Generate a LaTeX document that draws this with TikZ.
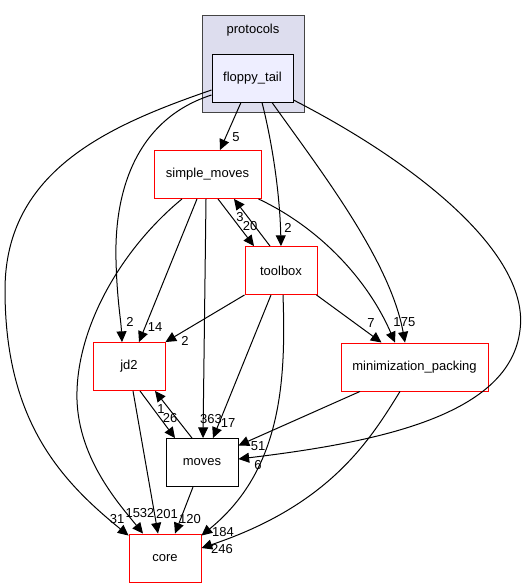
\documentclass[tikz,border=0pt]{standalone}
\usepackage{fontspec}
\setmainfont{Liberation Sans}
\usetikzlibrary{arrows.meta,calc}
\definecolor{clusterfill}{HTML}{DDDDEE}
\definecolor{clusterline}{HTML}{444444}
\definecolor{dirfill}{HTML}{EEEEFF}
\tikzset{
	dirbox/.style={draw=red, line width=0.7pt, fill=white, minimum height=36pt,
		minimum width=54pt, inner sep=0pt, font=\fontsize{9.75}{11}\selectfont},
	dep/.style={line width=0.75pt, -{Triangle[length=8pt,width=7.5pt]}},
	lbl/.style={font=\fontsize{9.75}{11}\selectfont, inner sep=0pt},
}

\begin{document}
\begin{tikzpicture}[x=0.75pt, y=-0.75pt]
			\useasboundingbox (0,0) rectangle (526,588);
			
			% Cluster holding the current directory
			\draw[clusterline, fill=clusterfill, line width=0.75pt] (202.5,15.5) rectangle (304,113);
			\node[lbl] (protocols) at (253,30) {protocols};
			\node[dirbox, draw=black, fill=dirfill, minimum width=60.75pt] (ft) at (252.5,78) {floppy\_tail};
			
			% Directories it depends on
			\node[dirbox, minimum width=80.25pt] (sm) at (207.5,174.5) {simple\_moves};
			\node[dirbox] (tb) at (281,270.5) {toolbox};
			\node[dirbox] (jd2) at (129,366.5) {jd2};
			\node[dirbox, minimum width=110.25pt] (mp) at (414.5,367) {minimization\_packing};
			\node[dirbox, draw=black] (mv) at (202,462.5) {moves};
			\node[dirbox] (core) at (165,558) {core};
			
			% Edges leaving floppy_tail
			\draw[dep] ($(ft.south)+(-11.5,0)$) -- ($(sm.north)+(12.5,0)$);
			\node[lbl] (l-ft-sm) at (236,137) {5};
			\draw[dep] ($(ft.west)+(0,17)$) .. controls (140,118) and (114,185) .. (116,260)
				.. controls (117,300) and (121,320) .. ($(jd2.north)+(-7,0)$);
			\node[lbl] (l-ft-jd2) at (130,322) {2};
			\draw[dep] ($(ft.west)+(0,12)$) .. controls (110,125) and (5,170) .. (5,290)
				.. controls (5,420) and (60,480) .. ($(core.north west)+(0,2)$);
			\node[lbl] (l-ft-core) at (117,519) {31};
			\draw[dep] ($(ft.south)+(9.5,0)$) .. controls (274,150) and (280,200) .. (tb.north);
			\node[lbl] (l-ft-tb) at (288,228) {2};
			\draw[dep] ($(ft.south)+(19.5,0)$) .. controls (320,170) and (390,260) .. ($(mp.north)+(-9.5,0)$);
			\node[lbl] (l-ft-mp) at (408,322) {75};
			\draw[dep] ($(ft.east)+(0,22)$) .. controls (420,165) and (530,255) .. (520,330)
				.. controls (510,415) and (380,442) .. ($(mv.east)+(0,-3.5)$);
			\node[lbl] (l-ft-mv) at (258,465) {6};
			
			% Edges leaving simple_moves
			\draw[dep] ($(sm.south)+(10.5,0)$) -- ($(tb.north)+(-27,0)$);
			\node[lbl] (l-sm-tb) at (250,226) {20};
			\draw[dep] ($(sm.south)+(-10.5,0)$) -- ($(jd2.north)+(10,0)$);
			\node[lbl] (l-sm-jd2) at (155,327) {14};
			\draw[dep] ($(sm.south)+(-25.5,0)$) .. controls (120,250) and (75,330) .. (77,400)
				.. controls (79,460) and (120,505) .. ($(core.north)+(-22,0)$);
			\node[lbl] (l-sm-core) at (140,513) {1532};
			\draw[dep] ($(sm.south)+(-1.5,0)$) -- ($(mv.north)+(1,0)$);
			\node[lbl] (l-sm-mv) at (211,419) {363};
			\draw[dep] ($(sm.south east)+(-3,0)$) .. controls (320,228) and (368,280) .. ($(mp.north)+(-19.5,0)$);
			\node[lbl] (l-sm-mp) at (397,322) {1};
			
			% Edges leaving toolbox
			\draw[dep] ($(tb.north)+(-11,0)$) -- ($(sm.south)+(26.5,0)$);
			\node[lbl] (l-tb-sm) at (240,217) {3};
			\draw[dep] (tb.south west) -- (jd2.north east);
			\node[lbl] (l-tb-jd2) at (185,341) {2};
			\draw[dep] ($(tb.south)+(-10,0)$) -- ($(mv.north)+(11,0)$);
			\node[lbl] (l-tb-mv) at (228,423) {17};
			\draw[dep] ($(tb.south)+(2,0)$) .. controls (286,380) and (282,470) .. ($(core.north east)+(0,2)$);
			\node[lbl] (l-tb-core) at (223,532) {184};
			\draw[dep] ($(tb.south east)+(-1,0)$) -- ($(mp.north)+(-33,0)$);
			\node[lbl] (l-tb-mp) at (371,323) {7};
			
			% Edges leaving jd2, moves and minimization_packing
			\draw[dep] ($(jd2.south)+(11,0)$) -- ($(mv.north)+(-27,0)$);
			\node[lbl] (l-jd2-mv) at (170,418) {26};
			\draw[dep] ($(mv.north)+(-10,0)$) -- ($(jd2.south)+(26,0)$);
			\node[lbl] (l-mv-jd2) at (161,409) {1};
			\draw[dep] ($(jd2.south)+(4,0)$) -- ($(core.north)+(-7,0)$);
			\node[lbl] (l-jd2-core) at (167,514) {201};
			\draw[dep] ($(mv.south)+(-9,0)$) -- ($(core.north)+(10,0)$);
			\node[lbl] (l-mv-core) at (190,519) {120};
			\draw[dep] ($(mp.south)+(-54.5,0)$) -- ($(mv.east)+(0,-17)$);
			\node[lbl] (l-mp-mv) at (258,446) {51};
			\draw[dep] ($(mp.south)+(-14.5,0)$) .. controls (370,440) and (330,505) .. ($(core.east)+(0,-10)$);
			\node[lbl] (l-mp-core) at (222,549) {246};
		\end{tikzpicture}
\end{document}
